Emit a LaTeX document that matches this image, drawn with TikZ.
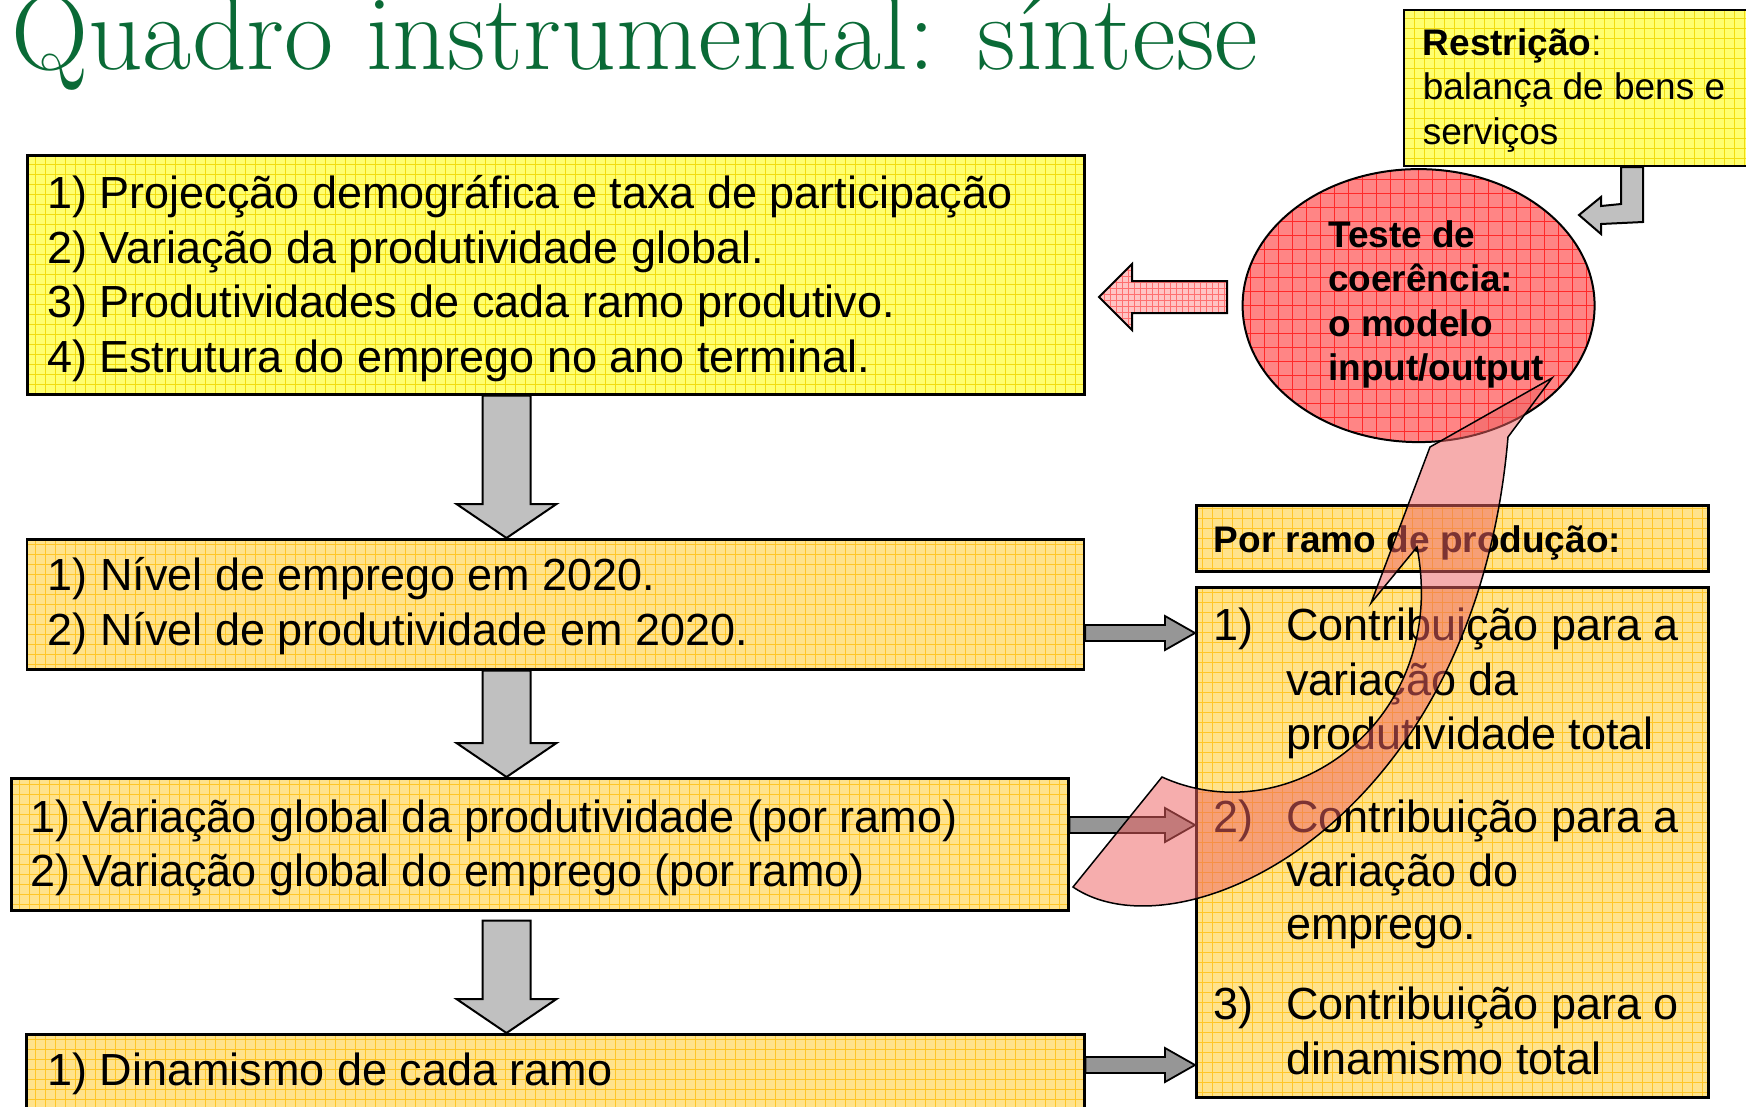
\documentclass[tikz,border=0pt]{standalone}
\usepackage{fontspec}
\setsansfont{Liberation Sans}
\usetikzlibrary{shapes.geometric,calc}
\definecolor{titlegreen}{HTML}{0A6A36}
\definecolor{ybright}{HTML}{FFFF70}
\definecolor{ybrightline}{HTML}{F2DC10}
\definecolor{yorange}{HTML}{FFE38C}
\definecolor{yorangeline}{HTML}{FFC628}
\definecolor{ellred}{HTML}{FF8585}
\definecolor{ellline}{HTML}{FF2A2A}
\definecolor{pinkarrow}{HTML}{FFC4C4}
\definecolor{pinkline}{HTML}{FF7070}
\definecolor{curvred}{HTML}{EE6262}
\definecolor{lgray}{HTML}{C0C0C0}
\definecolor{dgray}{HTML}{969696}
\newcommand\dnblock[2]{%
  \draw[downarrow] ($(#1)+(-24,0)$) -- ($(#1)+(24,0)$) -- ($(#2)+(24,-34)$) -- ($(#2)+(50,-34)$) -- (#2) -- ($(#2)+(-50,-34)$) -- ($(#2)+(-24,-34)$) -- cycle;}
\newcommand\rtblock[2]{%
  \draw[rightarrow] ($(#1)+(0,-8)$) -- ($(#2)+(-30,-8)$) -- ($(#2)+(-30,-17)$) -- (#2) -- ($(#2)+(-30,17)$) -- ($(#2)+(-30,8)$) -- ($(#1)+(0,8)$) -- cycle;}
\begin{document}
\begin{tikzpicture}[x=1pt,y=-1pt,
  gridfill/.style 2 args={path picture={\draw[#1, line width=0.9pt] (path picture bounding box.south west) grid[step=#2] (path picture bounding box.north east);}},
  boxa/.style={draw=black, line width=3pt, fill=ybright, gridfill={ybrightline}{10pt}, inner sep=0pt, anchor=north west},
  boxb/.style={draw=black, line width=2.5pt, fill=yorange, gridfill={yorangeline}{10pt}, inner sep=0pt, anchor=north west},
  bigtext/.style={font=\sffamily\fontsize{45}{54}\selectfont, inner sep=0pt, anchor=base west},
  smalltext/.style={font=\sffamily\fontsize{37}{44}\selectfont, inner sep=0pt, anchor=base west},
  boldtext/.style={font=\sffamily\bfseries\fontsize{37}{44}\selectfont, inner sep=0pt, anchor=base west},
  downarrow/.style={draw=black, line width=2pt, fill=lgray, line join=miter},
  rightarrow/.style={draw=black, line width=1.8pt, fill=dgray, line join=miter},
  redarrow/.style={draw=black, line width=2pt, fill=pinkarrow, gridfill={pinkline}{6pt}, line join=miter},
]
\useasboundingbox (0,0) rectangle (1746,1106);
\fill[white] (0,0) rectangle (1746,1106);

% title
\node[anchor=base west, inner sep=0pt, text=titlegreen, font=\rmfamily\fontsize{107}{120}\selectfont] (title) at (11,69) {Quadro instrumental: síntese};

% boxes
\node[boxa, minimum width=1057pt, minimum height=239pt] (b1) at (25.6,153.7) {};
\node[boxb, minimum width=1057pt, minimum height=130pt] (b2) at (25.6,538) {};
\node[boxb, minimum width=1057pt, minimum height=132pt] (b3) at (10,777) {};
\node[boxb, minimum width=1058pt, minimum height=110pt] (b4) at (25,1033) {};
\node[boxb, minimum width=512pt, minimum height=66pt] (hd) at (1195,504.4) {};
\node[boxb, minimum width=512pt, minimum height=510pt] (rb) at (1195,586) {};
\node[boxa, line width=2pt, minimum width=360pt, minimum height=156pt] (rs) at (1403,9) {};
\node[ellipse, draw=black, line width=2pt, fill=ellred, gridfill={ellline}{14pt}, minimum width=352pt, minimum height=273pt, inner sep=0pt] (ell) at (1418.6,305.6) {};

% down arrows
\coordinate (d1t) at (506.5,0 |- b1.south);
\coordinate (d1h) at (506.5,0 |- b2.north);
\coordinate (d2t) at (506.5,0 |- b2.south);
\coordinate (d2h) at (506.5,0 |- b3.north);
\coordinate (d3t) at (506.5,920.7);
\coordinate (d3h) at (506.5,0 |- b4.north);
\dnblock{d1t}{d1h}
\dnblock{d2t}{d2h}
\dnblock{d3t}{d3h}

% right arrows
\coordinate (r1t) at (b2.east |- 0,633);
\coordinate (r1h) at (rb.west |- 0,633);
\coordinate (r2t) at (b3.east |- 0,825);
\coordinate (r2h) at (rb.west |- 0,825);
\coordinate (r3t) at (b4.east |- 0,1065);
\coordinate (r3h) at (rb.west |- 0,1065);
\rtblock{r1t}{r1h}
\rtblock{r2t}{r2h}
\rtblock{r3t}{r3h}

% red arrow ellipse -> box1
\coordinate (rt) at (1227,297);
\coordinate (rh) at (1099,297);
\draw[redarrow] ($(rt)+(0,-16)$) -- ($(rh)+(33,-16)$) -- ($(rh)+(33,-33)$) -- (rh) -- ($(rh)+(33,33)$) -- ($(rh)+(33,16)$) -- ($(rt)+(0,16)$) -- cycle;

% bent arrow restriction -> ellipse
\coordinate (bt) at (1632,0 |- rs.south);
\coordinate (bh) at (1579,215);
\draw[downarrow] ($(bt)+(-11,0)$) -- ($(bt)+(11,0)$) -- ($(bt)+(11,55)$) -- ($(bh)+(22,9)$) -- ($(bh)+(22,19)$) -- (bh) -- ($(bh)+(22,-18)$) -- ($(bh)+(22,-9)$) -- ($(bt)+(-11,37)$) -- cycle;

% texts box1
\node[bigtext] (t11) at (46.8,208) {1) Projecção demográfica e taxa de participação};
\node[bigtext] (t12) at (46.8,263) {2) Variação da produtividade global.};
\node[bigtext] (t13) at (46.8,317) {3) Produtividades de cada ramo produtivo.};
\node[bigtext] (t14) at (46.8,372) {4) Estrutura do emprego no ano terminal.};
% box2
\node[bigtext] (t21) at (47.4,590) {1) Nível de emprego em 2020.};
\node[bigtext] (t22) at (47.4,645) {2) Nível de produtividade em 2020.};
% box3
\node[bigtext] (t31) at (30,832) {1) Variação global da produtividade (por ramo)};
\node[bigtext] (t32) at (30,886) {2) Variação global do emprego (por ramo)};
% box4
\node[bigtext] (t41) at (47,1085) {1) Dinamismo de cada ramo};
% header
\node[boldtext] (th) at (1213.7,552) {Por ramo de produção:};
% right list
\node[bigtext] (n1) at (1213.7,640) {1)};
\node[bigtext] (l11) at (1286,640) {Contribuição para a};
\node[bigtext] (l12) at (1286,695) {variação da};
\node[bigtext] (l13) at (1286,749) {produtividade total};
\node[bigtext] (n2) at (1213.7,832) {2)};
\node[bigtext] (l21) at (1286,832) {Contribuição para a};
\node[bigtext] (l22) at (1286,886) {variação do};
\node[bigtext] (l23) at (1286,939) {emprego.};
\node[bigtext] (n3) at (1213.7,1019) {3)};
\node[bigtext] (l31) at (1286,1019) {Contribuição para o};
\node[bigtext] (l32) at (1286,1074) {dinamismo total};
% restriction
\node[smalltext] (s1) at (1422.6,55) {\textbf{Restrição}:};
\node[smalltext] (s2) at (1422.6,99) {balança de bens e};
\node[smalltext] (s3) at (1422.6,144) {serviços};
% ellipse text
\node[boldtext] (e1) at (1328,247) {Teste de};
\node[boldtext] (e2) at (1328,291) {coerência:};
\node[boldtext] (e3) at (1328,336) {o modelo};
\node[boldtext] (e4) at (1328,380) {input/output};

% curved arrow
\filldraw[fill=curvred, fill opacity=0.52, draw=black, line width=1.5pt, line join=miter]
  (1073,887) .. controls (1180,960) and (1475,825) .. (1508,437)
  -- (1552,378) -- (1430,447) -- (1371,603) -- (1417,547)
  .. controls (1450,720) and (1290,835) .. (1162,777) -- cycle;
\end{tikzpicture}
\end{document}
